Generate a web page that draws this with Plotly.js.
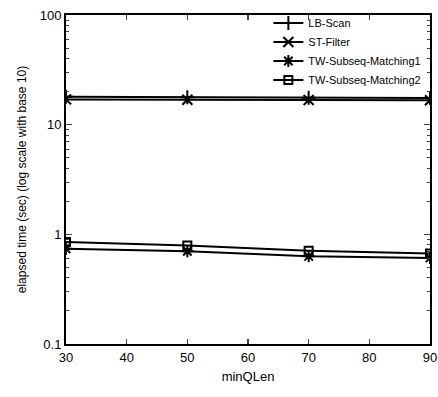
<!DOCTYPE html>
<html><head><meta charset="utf-8">
<script src="https://cdn.plot.ly/plotly-3.0.1.min.js"></script>
<style>html,body{margin:0;padding:0;background:#fff}#c{width:438px;height:397px}</style>
</head><body><div id="c"></div>
<script>
const minQLen = [30, 50, 70, 90];
const lbScan = [18.0, 17.8, 17.6, 17.5];
const stFilter = [17.0, 16.9, 16.8, 16.7];
const twSub1 = [0.74, 0.70, 0.63, 0.61];
const twSub2 = [0.85, 0.79, 0.71, 0.67];
const seriesNames = ["LB-Scan", "ST-Filter", "TW-Subseq-Matching1", "TW-Subseq-Matching2"];
const xTicks = [30, 40, 50, 60, 70, 80, 90];

const symbols = ["cross-thin-open", "x-thin-open", "asterisk-open", "square-open"];
const ys = [lbScan, stFilter, twSub1, twSub2];
const traces = ys.map((y, i) => ({
  x: minQLen, y: y, name: seriesNames[i], type: "scatter", mode: "lines+markers",
  line: {color: "#000", width: 2},
  marker: {symbol: symbols[i], size: i === 3 ? 8 : 10, color: "#000", line: {color: "#000", width: 2}}
}));

const font = {family: "Liberation Sans, Arial, sans-serif", color: "#000"};
const layout = {
  width: 438, height: 397,
  margin: {l: 66, r: 8, t: 13, b: 53},
  paper_bgcolor: "#fff", plot_bgcolor: "#fff",
  font: Object.assign({size: 12}, font),
  showlegend: true,
  legend: {x: 0.99, y: 1.02, xanchor: "right", yanchor: "top", bgcolor: "rgba(0,0,0,0)",
    font: Object.assign({size: 11}, font), tracegroupgap: 0, itemwidth: 30},
  xaxis: {
    range: [30, 90], tickvals: xTicks, ticks: "inside", ticklen: 5, tickwidth: 1.5,
    showline: true, linecolor: "#000", linewidth: 2, mirror: "ticks", showgrid: false, zeroline: false,
    tickfont: Object.assign({size: 13}, font),
    title: {text: "minQLen", font: Object.assign({size: 13}, font), standoff: 8}
  },
  yaxis: {
    type: "log", range: [-1, 2], dtick: 1, tickformat: "",
    ticks: "inside", ticklen: 6, tickwidth: 1.5,
    minor: {dtick: "D1", ticks: "inside", ticklen: 3, tickwidth: 1, showgrid: false},
    showline: true, linecolor: "#000", linewidth: 2, mirror: "ticks", showgrid: false, zeroline: false,
    tickfont: Object.assign({size: 13}, font),
    title: {text: "elapsed time (sec) (log scale with base 10)", font: Object.assign({size: 12}, font), standoff: 10}
  }
};
Plotly.newPlot("c", traces, layout, {displayModeBar: false, staticPlot: true});
</script></body></html>
